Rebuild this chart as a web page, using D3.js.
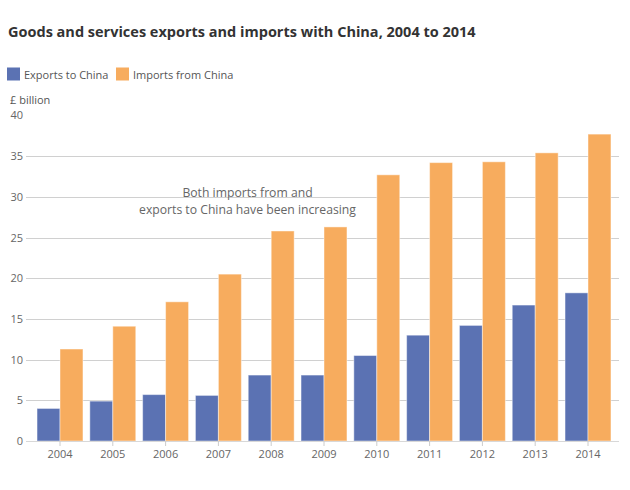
<!DOCTYPE html>
<html><head><meta charset="utf-8">
<script src="https://cdn.jsdelivr.net/npm/d3@7"></script>
<style>body{margin:0;background:#fff;} text{font-family:"Open Sans",sans-serif;}</style>
</head><body>
<svg id="c" width="630" height="490"></svg>
<script>
const years = ["2004","2005","2006","2007","2008","2009","2010","2011","2012","2013","2014"];
const exportsToChina = [4.0,4.9,5.7,5.6,8.1,8.1,10.5,13.0,14.2,16.7,18.2];
const importsFromChina = [11.3,14.1,17.1,20.5,25.8,26.3,32.7,34.2,34.3,35.4,37.7];
const seriesNames = ["Exports to China","Imports from China"];
const colors = ["#5b72b3","#f7ac5e"];
const yTicks = [0,5,10,15,20,25,30,35,40];

const svg = d3.select("#c");
const y = d3.scaleLinear().domain([0,40]).range([441,115.4]);
const x = d3.scaleBand().domain(years).range([33.6,614.4]).paddingInner(0.13).paddingOuter(0.065);
const xs = d3.scaleBand().domain(seriesNames).range([0,x.bandwidth()]);

svg.append("text").attr("x",8).attr("y",37).attr("font-size",14.5).attr("font-weight","bold").attr("fill","#333")
  .text("Goods and services exports and imports with China, 2004 to 2014");

// legend
const lg = svg.append("g");
const legendX = [7,116];
seriesNames.forEach((n,i)=>{
  lg.append("rect").attr("x",legendX[i]).attr("y",67.5).attr("width",13).attr("height",13).attr("fill",colors[i]);
  lg.append("text").attr("x",legendX[i]+17).attr("y",78.5).attr("font-size",11).attr("fill","#555").text(n);
});

// y axis labels
const yAxis = d3.axisLeft(y).tickValues(yTicks).tickSize(0).tickPadding(0);
const gy = svg.append("g").attr("transform","translate(23,0)").call(yAxis);
gy.select(".domain").remove();
gy.selectAll("text").attr("font-size",11).attr("fill","#666").attr("font-family","Open Sans, sans-serif");
// grid
svg.append("g").selectAll("line").data(yTicks.filter(d=>d>0 && d<40)).join("line")
  .attr("x1",26).attr("x2",619).attr("y1",d=>Math.round(y(d))+0.5).attr("y2",d=>Math.round(y(d))+0.5)
  .attr("stroke","#d0d0d0").attr("stroke-width",1);

svg.append("text").attr("x",10).attr("y",104).attr("font-size",11).attr("fill","#555").text("£ billion");

// bars
const groups = svg.append("g").selectAll("g").data(years).join("g")
  .attr("transform",d=>`translate(${x(d)},0)`);
groups.selectAll("rect").data((d,i)=>[
    {s:seriesNames[0],v:exportsToChina[i],c:colors[0]},
    {s:seriesNames[1],v:importsFromChina[i],c:colors[1]}])
  .join("rect")
  .attr("x",d=>xs(d.s)).attr("width",xs.bandwidth())
  .attr("y",d=>y(d.v)).attr("height",d=>y(0)-y(d.v))
  .attr("fill",d=>d.c).attr("stroke","rgba(255,255,255,0.45)").attr("stroke-width",1);

// x axis
svg.append("line").attr("x1",26).attr("x2",619).attr("y1",441.5).attr("y2",441.5).attr("stroke","#d8d8d8");
const xAxis = d3.axisBottom(x).tickSize(5).tickPadding(4);
const gx = svg.append("g").attr("transform","translate(0,441)").call(xAxis);
gx.select(".domain").remove();
gx.selectAll("line").attr("stroke","#ccc");
gx.selectAll("text").attr("font-size",11).attr("fill","#666").attr("font-family","Open Sans, sans-serif");

// annotation
const ann = svg.append("text").attr("text-anchor","middle").attr("font-size",12.2).attr("fill","#666");
ann.append("tspan").attr("x",247.5).attr("y",197).text("Both imports from and");
ann.append("tspan").attr("x",247.5).attr("y",213.5).text("exports to China have been increasing");
</script>
</body></html>
